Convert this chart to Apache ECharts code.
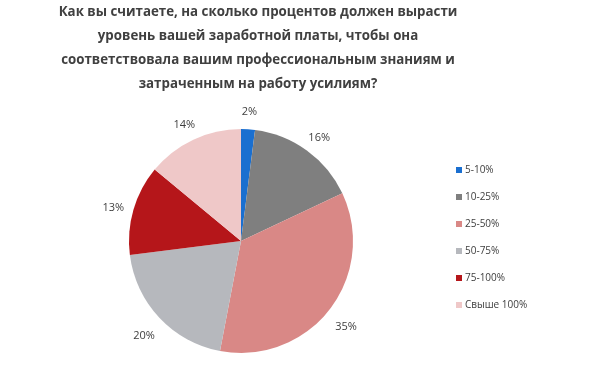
<!DOCTYPE html>
<html><head><meta charset="utf-8">
<script src="https://cdn.jsdelivr.net/npm/echarts@6/dist/echarts.min.js"></script>
<style>html,body{margin:0;padding:0;background:#fff}#c{width:600px;height:370px}</style>
</head><body><div id="c"></div>
<script>
const categories = ['5-10%', '10-25%', '25-50%', '50-75%', '75-100%', 'Свыше 100%'];
const values = [2, 16, 35, 20, 13, 14];
const colors = ['#1a6fd0', '#7f7f7f', '#d98886', '#b6b8bd', '#b5161a', '#efc8c8'];
const titleText = 'Как вы считаете, на сколько процентов должен вырасти\nуровень вашей заработной платы, чтобы она\nсоответствовала вашим профессиональным знаниям и\nзатраченным на работу усилиям?';

const chart = echarts.init(document.getElementById('c'), null, {renderer: 'canvas'});
const pieData = categories.map((c, i) => ({name: c, value: values[i], itemStyle: {color: colors[i]}}));
chart.setOption({
  animation: false,
  backgroundColor: '#fff',
  title: {
    text: titleText,
    left: 253, top: -5, textAlign: 'center',
    textStyle: {fontFamily: 'Open Sans', fontWeight: 'bold', fontSize: 13.3, color: '#404040', lineHeight: 24}
  },
  legend: {
    orient: 'vertical', left: 451, top: 160,
    itemWidth: 6, itemHeight: 6, itemGap: 17, icon: 'rect',
    textStyle: {fontFamily: 'Open Sans', fontSize: 10, color: '#404040', padding: [0,0,0,-2]},
    data: categories
  },
  series: [{
    type: 'pie',
    center: [241, 241], radius: 112,
    startAngle: 90, clockwise: true,
    data: pieData,
    label: {show: false},
    labelLine: {show: false}
  }, {
    type: 'pie', silent: true,
    center: [241, 245], radius: [110, 150],
    startAngle: 90, clockwise: true,
    data: categories.map((c, i) => ({name: c, value: values[i], itemStyle: {color: 'rgba(0,0,0,0)'}})),
    label: {show: true, position: 'inside', formatter: '{d}%', fontFamily: 'Open Sans', fontSize: 11, color: '#404040'},
    labelLine: {show: false},
    emphasis: {disabled: true}
  }]
});
</script></body></html>
